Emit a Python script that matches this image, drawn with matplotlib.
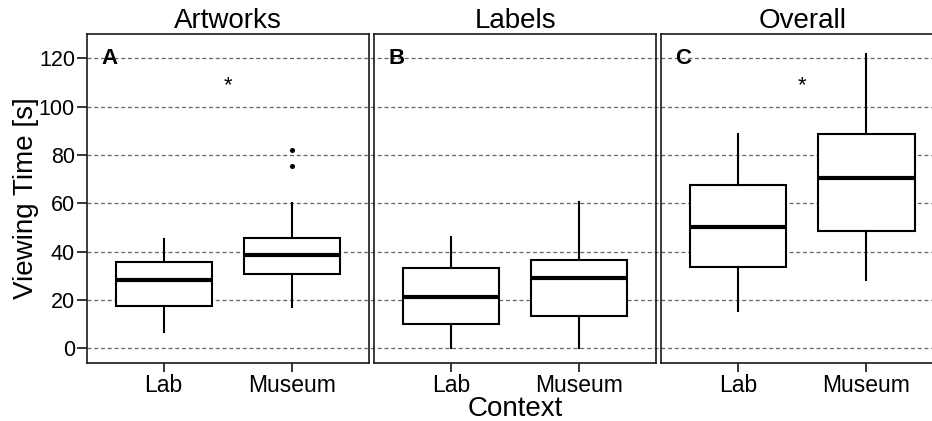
import matplotlib
matplotlib.use("Agg")
import matplotlib.pyplot as plt
import matplotlib.transforms as mtransforms

plt.rcParams['font.family'] = ['Liberation Sans', 'DejaVu Sans']

# ---- data ----
panels = ["Artworks", "Labels", "Overall"]
panel_tags = ["A", "B", "C"]
contexts = ["Lab", "Museum"]
# five-number summaries: [whisker low, Q1, median, Q3, whisker high]
artworks_lab = [6.9, 17.6, 28.3, 35.6, 45.2]
artworks_museum = [17.0, 30.7, 38.6, 45.8, 60.1]
artworks_lab_outliers = []
artworks_museum_outliers = [75.4, 81.9]
labels_lab = [0.0, 10.2, 21.2, 33.4, 46.2]
labels_museum = [0.0, 13.2, 29.0, 36.4, 60.7]
labels_lab_outliers = []
labels_museum_outliers = []
overall_lab = [15.4, 33.6, 50.3, 67.6, 88.8]
overall_museum = [28.1, 48.4, 70.3, 88.8, 121.8]
overall_lab_outliers = []
overall_museum_outliers = []
significance = ["*", "", "*"]
significance_y = [108.5, None, 108.5]
y_ticks = [0, 20, 40, 60, 80, 100, 120]
y_label = "Viewing Time [s]"
x_label = "Context"

summaries = [[artworks_lab, artworks_museum], [labels_lab, labels_museum], [overall_lab, overall_museum]]
outliers = [[artworks_lab_outliers, artworks_museum_outliers],
            [labels_lab_outliers, labels_museum_outliers],
            [overall_lab_outliers, overall_museum_outliers]]

# ---- layout (pixels) ----
W, H = 932, 421
fig = plt.figure(figsize=(W / 100, H / 100), dpi=100)
panel_left_px = [86.7, 373.9, 661.0]
panel_w_px = 282.4
top_px, bot_px = 34.3, 362.5
ylim = (-5.9, 129.9)

def fx(px):
    return px / W

def fy(py):
    return 1 - py / H

# background axes for continuous dashed gridlines
bg = fig.add_axes([fx(panel_left_px[0]), fy(bot_px), fx(panel_left_px[2] + panel_w_px - panel_left_px[0]), (bot_px - top_px) / H])
bg.set_ylim(*ylim)
bg.set_xlim(0, 1)
bg.axis("off")
for yt in y_ticks:
    bg.axhline(yt, color="#666666", lw=0.9, ls=(0, (3.2, 2.2)), zorder=0)

for i, name in enumerate(panels):
    ax = fig.add_axes([fx(panel_left_px[i]), fy(bot_px), fx(panel_w_px), (bot_px - top_px) / H])
    ax.set_facecolor("none")
    stats = []
    for j, ctx in enumerate(contexts):
        lo, q1, med, q3, hi = summaries[i][j]
        stats.append(dict(whislo=lo, q1=q1, med=med, q3=q3, whishi=hi, fliers=outliers[i][j], label=ctx))
    ax.bxp(stats, positions=[1, 2], widths=0.75, showcaps=False, patch_artist=True,
           boxprops=dict(facecolor="white", edgecolor="black", linewidth=1.5),
           medianprops=dict(color="black", linewidth=3.0),
           whiskerprops=dict(color="black", linewidth=1.5),
           flierprops=dict(marker="o", markersize=2.6, markerfacecolor="black", markeredgecolor="black"))
    ax.set_xlim(0.4, 2.6)
    ax.set_ylim(*ylim)
    ax.set_yticks(y_ticks)
    ax.tick_params(axis="x", length=6.5, width=1.1, pad=1.5, labelsize=16.5, colors="black")
    if i == 0:
        ax.tick_params(axis="y", length=7, width=1.1, pad=1.5, labelsize=15.5, colors="black")
    else:
        ax.tick_params(axis="y", left=False, labelleft=False)
    for sp in ax.spines.values():
        sp.set_linewidth(1.2)
        sp.set_color("#1a1a1a")
    ax.set_title(name, fontsize=20, pad=4.5)
    ax.text(14.5 / panel_w_px, 120, panel_tags[i],
            transform=mtransforms.blended_transform_factory(ax.transAxes, ax.transData),
            fontsize=16, fontweight="bold", ha="left", va="center")
    if significance[i]:
        ax.text(1.5, significance_y[i], significance[i], fontsize=16, ha="center", va="center")

fig.text(fx(515), fy(416), x_label, fontsize=20, ha="center", va="baseline")
fig.text(fx(33.3), fy((top_px + bot_px) / 2), y_label, fontsize=20, ha="center", va="baseline",
         rotation=90, rotation_mode="anchor")

fig.savefig("out.png", dpi=100)
